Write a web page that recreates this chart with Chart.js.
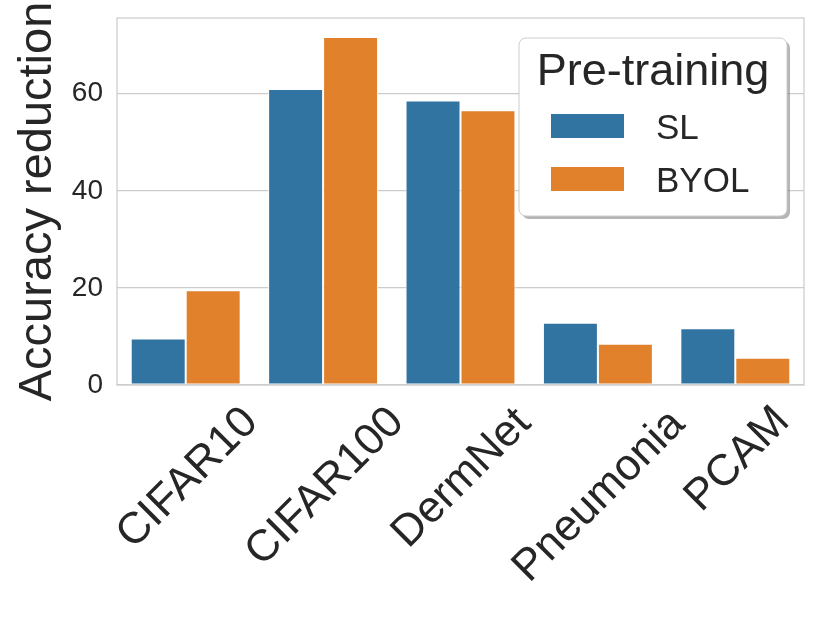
<!DOCTYPE html>
<html>
<head>
<meta charset="utf-8">
<script src="https://cdn.jsdelivr.net/npm/chart.js@4"></script>
<style>
  html, body { margin: 0; padding: 0; background: #fff; }
  #wrap { width: 822px; height: 617px; }
</style>
</head>
<body>
<div id="wrap"><canvas id="chart" width="822" height="617"></canvas></div>
<script>
const categories = ['CIFAR10', 'CIFAR100', 'DermNet', 'Pneumonia', 'PCAM'];
const slValues = [9.6, 61.0, 58.6, 12.8, 11.7];
const byolValues = [19.5, 71.7, 56.6, 8.5, 5.6];
const yTicks = [0, 20, 40, 60];

const TEXT = '#262626';
const GRID = '#cccccc';
const FONT = '"Liberation Sans", Arial, sans-serif';

// light grey frame round the plot, like the seaborn whitegrid spines
const framePlugin = {
  id: 'frame',
  afterDraw(chart) {
    const { ctx, chartArea: a } = chart;
    ctx.save();
    ctx.strokeStyle = GRID;
    ctx.lineWidth = 1.25;
    ctx.strokeRect(a.left, a.top, a.right - a.left, a.bottom - a.top);
    ctx.restore();
  }
};

// x labels rotated 45deg and centred under the tick (matplotlib style),
// chart.js would right-align them on the tick instead
const xLabels = {
  id: 'xLabels',
  afterDraw(chart) {
    const ctx = chart.ctx;
    const scale = chart.scales.x;
    const top = chart.chartArea.bottom + 18;
    ctx.save();
    ctx.font = '44px ' + FONT;
    ctx.fillStyle = TEXT;
    ctx.textAlign = 'left';
    ctx.textBaseline = 'alphabetic';
    categories.forEach((label, i) => {
      const m = ctx.measureText(label);
      const inkW = m.actualBoundingBoxLeft + m.actualBoundingBoxRight;
      const inkH = m.actualBoundingBoxAscent + m.actualBoundingBoxDescent;
      const size = (inkW + inkH) * Math.SQRT1_2;
      ctx.save();
      ctx.translate(scale.getPixelForTick(i), top + size / 2);
      ctx.rotate(-Math.PI / 4);
      ctx.fillText(label,
        -(m.actualBoundingBoxRight - m.actualBoundingBoxLeft) / 2,
        (m.actualBoundingBoxAscent - m.actualBoundingBoxDescent) / 2);
      ctx.restore();
    });
    ctx.restore();
  }
};

function roundRect(ctx, x, y, w, h, r) {
  ctx.beginPath();
  ctx.moveTo(x + r, y);
  ctx.arcTo(x + w, y, x + w, y + h, r);
  ctx.arcTo(x + w, y + h, x, y + h, r);
  ctx.arcTo(x, y + h, x, y, r);
  ctx.arcTo(x, y, x + w, y, r);
  ctx.closePath();
}

// legend with title, drawn inside the plot at the upper right
const boxLegend = {
  id: 'boxLegend',
  afterDraw(chart) {
    const ctx = chart.ctx;
    const x = 519, y = 38, w = 268, h = 178;
    ctx.save();
    roundRect(ctx, x + 3, y + 3, w, h, 7);
    ctx.fillStyle = 'rgba(120,120,120,0.55)';
    ctx.fill();
    roundRect(ctx, x, y, w, h, 7);
    ctx.fillStyle = '#ffffff';
    ctx.fill();
    ctx.strokeStyle = GRID;
    ctx.lineWidth = 1;
    ctx.stroke();

    ctx.fillStyle = TEXT;
    ctx.textBaseline = 'alphabetic';
    ctx.textAlign = 'center';
    ctx.font = '45px ' + FONT;
    ctx.fillText('Pre-training', x + w / 2, 85);

    ctx.textAlign = 'left';
    ctx.font = '35px ' + FONT;
    chart.data.datasets.forEach((ds, i) => {
      const top = 114 + i * 53;
      ctx.fillStyle = ds.backgroundColor;
      ctx.fillRect(551, top, 73, 24);
      ctx.fillStyle = TEXT;
      ctx.fillText(ds.label, 656, top + 25);
    });
    ctx.restore();
  }
};

new Chart(document.getElementById('chart'), {
  type: 'bar',
  data: {
    labels: categories,
    datasets: [
      {
        label: 'SL',
        data: slValues,
        backgroundColor: '#3274a1',
        borderColor: '#ffffff',
        borderWidth: 1,
        borderSkipped: false,
      },
      {
        label: 'BYOL',
        data: byolValues,
        backgroundColor: '#e1812c',
        borderColor: '#ffffff',
        borderWidth: 1,
        borderSkipped: false,
      },
    ],
  },
  options: {
    responsive: false,
    animation: false,
    devicePixelRatio: 1,
    layout: { padding: { top: 18, right: 18, left: 0, bottom: 0 } },
    datasets: {
      bar: { barPercentage: 1.0, categoryPercentage: 0.8 },
    },
    plugins: {
      legend: { display: false },
      tooltip: { enabled: false },
    },
    scales: {
      x: {
        grid: { display: false },
        border: { display: false },
        ticks: { display: false },
        afterFit(scale) {
          scale.height = 232;
          scale.paddingLeft = 0;
          scale.paddingRight = 0;
        },
      },
      y: {
        min: 0,
        max: 75.6,
        border: { display: false },
        grid: { color: GRID, lineWidth: 1.25, drawTicks: false },
        ticks: {
          color: TEXT,
          font: { size: 28, family: FONT },
          padding: 14,
        },
        afterBuildTicks(scale) {
          scale.ticks = yTicks.map(v => ({ value: v }));
        },
        title: {
          display: true,
          text: 'Accuracy reduction',
          color: TEXT,
          font: { size: 47, family: FONT },
          padding: { top: 10, bottom: 0 },
        },
        afterFit(scale) {
          scale.width = 117;
          scale.paddingTop = 0;
          scale.paddingBottom = 0;
        },
      },
    },
  },
  plugins: [framePlugin, xLabels, boxLegend],
});
</script>
</body>
</html>
